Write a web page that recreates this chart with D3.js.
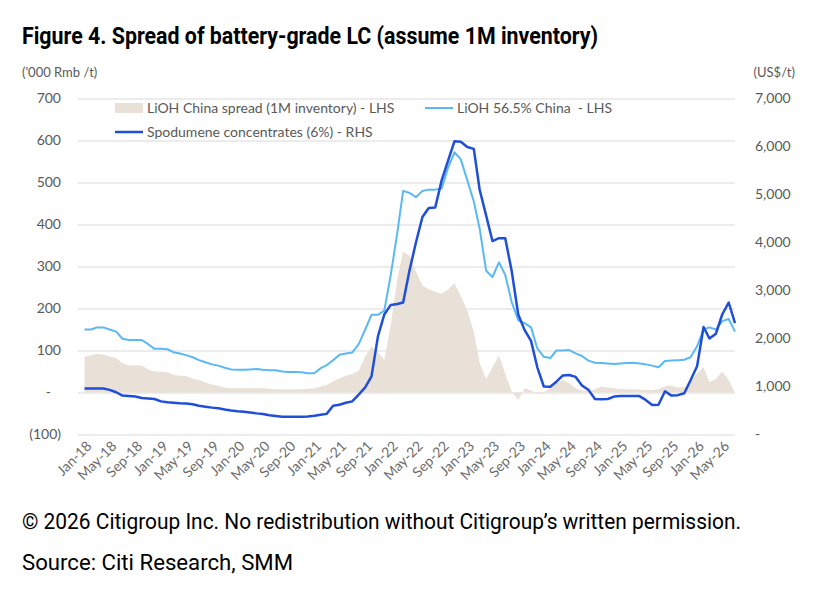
<!DOCTYPE html>
<html>
<head>
<meta charset="utf-8">
<script src="https://cdn.jsdelivr.net/npm/d3@7"></script>
<style>
  body { margin: 0; background: #fff; }
  text { font-family: Lato, "Open Sans", sans-serif; }
</style>
</head>
<body>
<div id="chart"></div>
<script>
// Monthly observations, Jan-18 .. Jul-26
const months = d3.timeMonth.range(new Date(2018, 0, 1), new Date(2026, 6, 2));

// LiOH China spread (1M inventory), '000 Rmb/t - LHS
const spread = [
  85, 88, 92, 90, 86, 82, 70, 64, 65, 64,
  55, 50, 50, 48, 42, 40, 39, 33, 30, 24,
  19, 16, 12, 10, 10, 10, 10, 10, 10, 9,
  8, 8, 8, 8, 8, 9, 10, 14, 18, 26,
  34, 40, 44, 52, 85, 110, 95, 78, 160, 270,
  335, 325, 288, 255, 246, 240, 235, 245, 260, 230,
  195, 145, 70, 32, 60, 88, 45, 2, -18, 10,
  5, -4, 0, 10, 22, 30, 22, 10, 5, 3,
  8, 14, 12, 10, 8, 8, 8, 7, 6, 6,
  8, 15, 16, 12, 12, 25, 45, 60, 25, 32,
  50, 30, 0
];

// LiOH 56.5% China, '000 Rmb/t - LHS
const lioh = [
  150, 150, 155, 155, 150, 145, 128, 125, 125, 125,
  115, 104, 104, 103, 96, 93, 89, 84, 77, 72,
  67, 64, 59, 55, 54, 54, 55, 56, 54, 53,
  53, 50, 49, 49, 48, 46, 46, 58, 65, 77,
  90, 93, 95, 115, 150, 185, 185, 195, 280, 380,
  480, 475, 465, 480, 483, 483, 486, 535, 572, 555,
  505, 455, 390, 290, 275, 310, 280, 215, 172, 165,
  155, 105, 85, 82, 100, 100, 101, 93, 87, 76,
  71, 70, 69, 68, 69, 70, 71, 69, 67, 64,
  60, 75, 76, 77, 78, 84, 110, 150, 155, 150,
  170, 175, 145
];

// Spodumene concentrates (6%), US$/t - RHS
const spodumene = [
  960, 960, 960, 960, 930, 880, 810, 800, 790, 760,
  750, 740, 690, 670, 660, 650, 645, 630, 600, 580,
  560, 545, 520, 500, 485, 475, 460, 440, 425, 400,
  385, 370, 370, 370, 370, 375, 390, 410, 430, 600,
  620, 660, 690, 830, 980, 1210, 2050, 2500, 2700, 2720,
  2750, 3430, 4000, 4530, 4720, 4730, 5300, 5700, 6110, 6100,
  5990, 5950, 5100, 4560, 4030, 4090, 4090, 3400, 2500, 2180,
  1950, 1400, 1000, 995, 1100, 1230, 1240, 1200, 1020, 930,
  740, 735, 740, 790, 800, 800, 800, 800, 720, 615,
  620, 900, 810, 820, 860, 1130, 1420, 2240, 2000, 2100,
  2500, 2750, 2320
];

const xTickLabels = [
  "Jan-18", "May-18", "Sep-18", "Jan-19", "May-19", "Sep-19",
  "Jan-20", "May-20", "Sep-20", "Jan-21", "May-21", "Sep-21",
  "Jan-22", "May-22", "Sep-22", "Jan-23", "May-23", "Sep-23",
  "Jan-24", "May-24", "Sep-24", "Jan-25", "May-25", "Sep-25",
  "Jan-26", "May-26"
];
const leftTicks  = [-100, 0, 100, 200, 300, 400, 500, 600, 700];
const rightTicks = [0, 1000, 2000, 3000, 4000, 5000, 6000, 7000];

const width = 835, height = 593;
const plot = { left: 78, right: 735, top: 98.5, bottom: 434.5 };
const grey = "#595959";

const svg = d3.select("#chart").append("svg")
  .attr("width", width)
  .attr("height", height);

// Scales
const x = d3.scaleTime()
  .domain([new Date(2017, 11, 1), new Date(2026, 6, 1)])
  .range([plot.left, plot.right]);
const yL = d3.scaleLinear().domain([-100, 700]).range([plot.bottom, plot.top]);
const yR = d3.scaleLinear().domain([0, 7000]).range([plot.bottom, plot.top]);

// Gridlines
svg.append("g")
  .attr("transform", `translate(${plot.left},0)`)
  .call(d3.axisLeft(yL).tickValues(leftTicks).tickSize(-(plot.right - plot.left)).tickFormat(""))
  .call(g => g.select(".domain").remove())
  .call(g => g.selectAll("line").attr("stroke", "#d9d9d9").attr("stroke-width", 1.2));

// Left axis
const fmtL = v => v < 0 ? `(${-v})` : v === 0 ? "-" : d3.format(",")(v);
svg.append("g")
  .attr("transform", `translate(${plot.left},0)`)
  .call(d3.axisLeft(yL).tickValues(leftTicks).tickSize(0).tickPadding(17).tickFormat(fmtL))
  .call(g => g.select(".domain").remove())
  .call(g => g.selectAll("text")
    .attr("fill", grey)
    .style("font-size", "14px")
    .style("font-family", "Lato, sans-serif")
    .attr("dx", d => d === 0 ? -10 : 0));

// Right axis
const fmtR = v => v === 0 ? "-" : d3.format(",")(v);
svg.append("g")
  .attr("transform", `translate(${plot.right},0)`)
  .call(d3.axisRight(yR).tickValues(rightTicks).tickSize(0).tickPadding(20).tickFormat(fmtR))
  .call(g => g.select(".domain").remove())
  .call(g => g.selectAll("text")
    .attr("fill", grey)
    .style("font-size", "14px")
    .style("font-family", "Lato, sans-serif"));

// X axis (rotated month labels)
const parseTick = d3.timeParse("%b-%y");
svg.append("g")
  .attr("transform", `translate(0,${plot.bottom + 5})`)
  .call(d3.axisBottom(x).tickValues(xTickLabels.map(parseTick)).tickSize(0).tickPadding(0)
    .tickFormat(d3.timeFormat("%b-%y")))
  .call(g => g.select(".domain").remove())
  .call(g => g.selectAll("text")
    .attr("fill", "#6b6b6b")
    .style("font-size", "14px")
    .style("font-family", "Lato, sans-serif")
    .attr("text-anchor", "end")
    .attr("dy", "0.75em")
    .attr("transform", "rotate(-45)"));

// Series
const rows = months.map((d, i) => ({ date: d, spread: spread[i], lioh: lioh[i], spod: spodumene[i] }));

svg.append("path")
  .datum(rows)
  .attr("fill", "#e9e1d8")
  .attr("d", d3.area().x(d => x(d.date)).y0(yL(0)).y1(d => yL(d.spread)));

svg.append("path")
  .datum(rows)
  .attr("fill", "none")
  .attr("stroke", "#5ab8f4")
  .attr("stroke-width", 2)
  .attr("stroke-linejoin", "round")
  .attr("d", d3.line().x(d => x(d.date)).y(d => yL(d.lioh)));

svg.append("path")
  .datum(rows)
  .attr("fill", "none")
  .attr("stroke", "#1f4fd8")
  .attr("stroke-width", 2.5)
  .attr("stroke-linejoin", "round")
  .attr("d", d3.line().x(d => x(d.date)).y(d => yR(d.spod)));

// Legend
const legend = svg.append("g").style("font-size", "14px").attr("fill", grey);
legend.append("rect").attr("x", 115).attr("y", 103).attr("width", 28).attr("height", 10).attr("fill", "#e9e1d8");
legend.append("text").attr("x", 147).attr("y", 113).attr("fill", grey)
  .text("LiOH China spread (1M inventory) - LHS");
legend.append("line").attr("x1", 425).attr("x2", 453).attr("y1", 108).attr("y2", 108)
  .attr("stroke", "#5ab8f4").attr("stroke-width", 2);
legend.append("text").attr("x", 457).attr("y", 113).attr("fill", grey)
  .style("white-space", "pre")
  .text("LiOH 56.5% China  - LHS");
legend.append("line").attr("x1", 115).attr("x2", 143).attr("y1", 132).attr("y2", 132)
  .attr("stroke", "#1f4fd8").attr("stroke-width", 2.5);
legend.append("text").attr("x", 147).attr("y", 137).attr("fill", grey)
  .text("Spodumene concentrates (6%) - RHS");

// Axis unit labels
svg.append("text").attr("x", 22).attr("y", 77).attr("fill", grey)
  .style("font-size", "13px").text("('000 Rmb /t)");
svg.append("text").attr("x", 795).attr("y", 77).attr("fill", grey)
  .attr("text-anchor", "end").style("font-size", "13px").text("(US$/t)");

// Title and footer
svg.append("text")
  .attr("x", 22).attr("y", 44)
  .attr("textLength", 576).attr("lengthAdjust", "spacingAndGlyphs")
  .style("font-family", "Roboto, sans-serif").style("font-weight", 700).style("font-size", "24px")
  .attr("fill", "#000")
  .text("Figure 4. Spread of battery-grade LC (assume 1M inventory)");

svg.append("text")
  .attr("x", 22).attr("y", 529)
  .attr("textLength", 719).attr("lengthAdjust", "spacingAndGlyphs")
  .style("font-family", "Roboto, sans-serif").style("font-size", "22px")
  .attr("fill", "#000")
  .text("© 2026 Citigroup Inc. No redistribution without Citigroup’s written permission.");

svg.append("text")
  .attr("x", 22).attr("y", 570)
  .attr("textLength", 271).attr("lengthAdjust", "spacingAndGlyphs")
  .style("font-family", "Roboto, sans-serif").style("font-size", "22px")
  .attr("fill", "#000")
  .text("Source: Citi Research, SMM");
</script>
</body>
</html>
